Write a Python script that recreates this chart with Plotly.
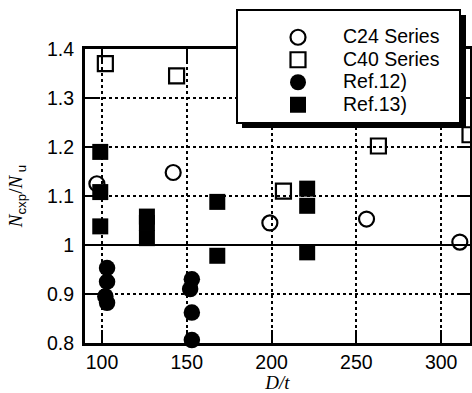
import plotly.graph_objects as go

# ---- data ----
c24_x = [97, 142, 199, 256, 311]
c24_y = [1.125, 1.148, 1.045, 1.053, 1.006]

c40_x = [102, 144, 207, 263, 317]
c40_y = [1.370, 1.345, 1.110, 1.202, 1.225]

ref12_x = [103, 103, 102, 103, 153, 152, 153, 153]
ref12_y = [0.953, 0.925, 0.895, 0.882, 0.930, 0.910, 0.862, 0.806]

ref13_x = [99, 99, 99, 126.5, 126.5, 126.5, 168, 168, 221, 221, 221]
ref13_y = [1.190, 1.108, 1.038, 1.058, 1.045, 1.014, 1.088, 0.978, 1.115, 1.080, 0.985]

series_names = ["C24 Series", "C40 Series", "Ref.12)", "Ref.13)"]

y_tickvals = [0.8, 0.9, 1.0, 1.1, 1.2, 1.3, 1.4]
y_ticktext = ["0.8", "0.9", "1", "1.1", "1.2", "1.3", "1.4"]
x_tickvals = [100, 150, 200, 250, 300]
x_ticktext = ["100", "150", "200", "250", "300"]

W, H = 472, 393
ML, MR, MT, MB = 85, 2, 49, 50
PW, PH = W - ML - MR, H - MT - MB


def px(x):
    return (x - ML) / PW


def py(y):
    return (H - MB - y) / PH


def leg(name):
    return "<span style='font-size:19.5px'>" + name + "</span>"


fig = go.Figure()
fig.add_trace(go.Scatter(x=c24_x, y=c24_y, mode="markers", name=leg(series_names[0]),
                         marker=dict(symbol="circle-open", size=15, color="black", line=dict(width=2.2)),
                         cliponaxis=False))
fig.add_trace(go.Scatter(x=c40_x, y=c40_y, mode="markers", name=leg(series_names[1]),
                         marker=dict(symbol="square-open", size=15, color="black", line=dict(width=2.2)),
                         cliponaxis=False))
fig.add_trace(go.Scatter(x=ref12_x, y=ref12_y, mode="markers", name=leg(series_names[2]),
                         marker=dict(symbol="circle", size=16.5, color="black"),
                         cliponaxis=False))
fig.add_trace(go.Scatter(x=ref13_x, y=ref13_y, mode="markers", name=leg(series_names[3]),
                         marker=dict(symbol="square", size=16, color="black"),
                         cliponaxis=False))

shapes = [
    # solid line at 1.0
    dict(type="line", xref="paper", x0=0, x1=1, yref="y", y0=1.0, y1=1.0,
         line=dict(color="black", width=2), layer="below"),
    # legend shadow
    dict(type="rect", xref="paper", yref="paper",
         x0=px(242), x1=px(466), y0=py(15), y1=py(128),
         fillcolor="black", line=dict(width=0), layer="above"),
    # legend box
    dict(type="rect", xref="paper", yref="paper",
         x0=px(237), x1=px(460), y0=py(10), y1=py(123),
         fillcolor="white", line=dict(color="black", width=2), layer="above"),
]

axis_common = dict(
    showline=True, linecolor="black", linewidth=3, mirror="allticks",
    ticks="inside", ticklen=13, tickwidth=2, tickcolor="black",
    showgrid=True, gridcolor="black", griddash="dot", gridwidth=2,
    zeroline=False, automargin=False,
    tickfont=dict(family="Liberation Sans, Arial", size=19.5, color="black"),
)

fig.update_layout(
    width=W, height=H,
    margin=dict(l=ML, r=MR, t=MT, b=MB),
    paper_bgcolor="white", plot_bgcolor="white",
    showlegend=True,
    legend=dict(x=px(253), y=py(21), xanchor="left", yanchor="top",
                bgcolor="rgba(0,0,0,0)", borderwidth=0, itemwidth=80,
                font=dict(family="Liberation Sans, Arial", size=15, color="black"),
                tracegroupgap=0),
    xaxis=dict(range=[90, 317], tickvals=x_tickvals, ticktext=x_ticktext,
               title=dict(text="<i>D/t</i>", standoff=2,
                          font=dict(family="Liberation Serif, Times New Roman", size=19, color="black")),
               **axis_common),
    yaxis=dict(range=[0.8, 1.4], tickvals=y_tickvals, ticktext=y_ticktext,
               ticklabelstandoff=4,
               title=dict(text="<i>N</i><sub><span style='font-family:Liberation Sans'>cxp</span></sub>"
                               "/<i>N</i><sub><span style='font-family:Liberation Sans'> u</span></sub>",
                          standoff=20,
                          font=dict(family="Liberation Serif, Times New Roman", size=19, color="black")),
               **axis_common),
    shapes=shapes,
)

fig.write_html("out.html")
